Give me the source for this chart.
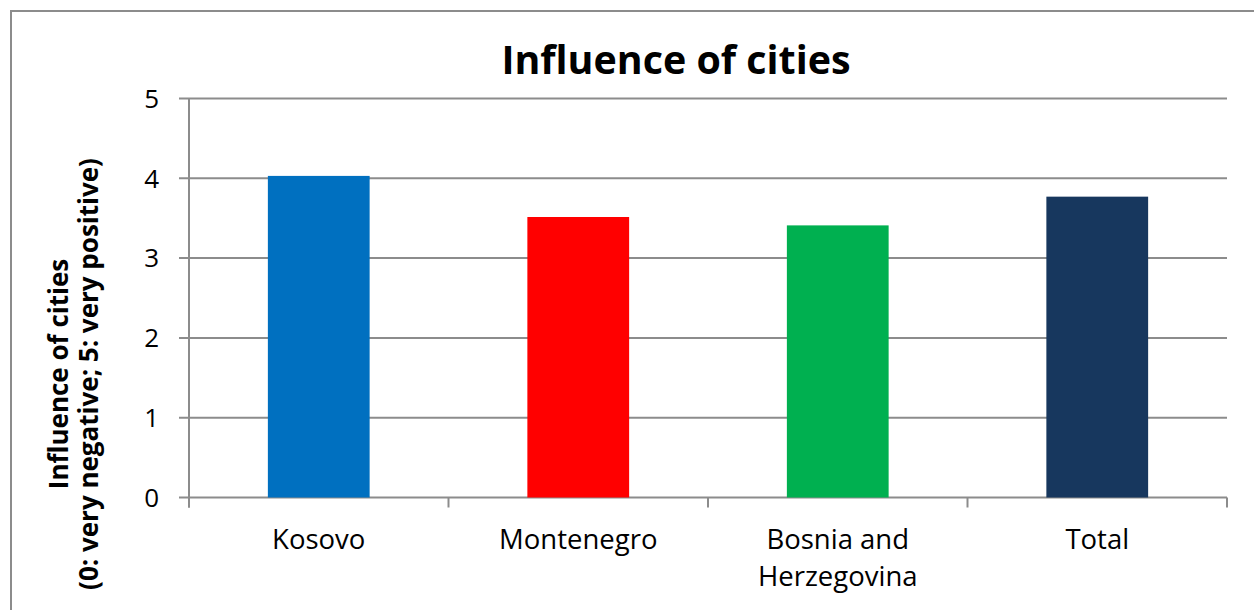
<!DOCTYPE html>
<html>
<head>
<meta charset="utf-8">
<script src="https://cdn.jsdelivr.net/npm/d3@7"></script>
<style>
  body { margin: 0; background: #fff; }
  text { font-family: "Open Sans", sans-serif; fill: #000; }
</style>
</head>
<body>
<div id="chart"></div>
<script>
// data
var categories = ['Kosovo', 'Montenegro', 'Bosnia and Herzegovina', 'Total']
var labelLines = [['Kosovo'], ['Montenegro'], ['Bosnia and', 'Herzegovina'], ['Total']]
var values = [4.03, 3.515, 3.41, 3.77]
var barColors = ['#0070C0', '#FF0000', '#00B050', '#17375E']
var yTicks = [0, 1, 2, 3, 4, 5]

var width = 1254
var height = 610
var margin = { top: 98.5, left: 189, right: 27, bottom: 112.5 }
var gridColor = '#8c8c8c'

var svg = d3
  .select('#chart')
  .append('svg')
  .attr('width', width)
  .attr('height', height)

// outer chart border (only top and left visible)
svg
  .append('rect')
  .attr('x', 11)
  .attr('y', 11)
  .attr('width', width + 20)
  .attr('height', height + 20)
  .attr('fill', 'none')
  .attr('stroke', gridColor)
  .attr('stroke-width', 2)

var x = d3
  .scaleBand()
  .domain(categories)
  .range([margin.left, width - margin.right])
  .padding(0)

var y = d3
  .scaleLinear()
  .domain([0, 5])
  .range([height - margin.bottom, margin.top])

// gridlines + left ticks
svg
  .append('g')
  .selectAll('line')
  .data(yTicks)
  .enter()
  .append('line')
  .attr('x1', margin.left - 10)
  .attr('x2', width - margin.right)
  .attr('y1', d => y(d))
  .attr('y2', d => y(d))
  .attr('stroke', gridColor)
  .attr('stroke-width', 2)

// y axis line
svg
  .append('line')
  .attr('x1', margin.left)
  .attr('x2', margin.left)
  .attr('y1', y(5))
  .attr('y2', y(0) + 10)
  .attr('stroke', gridColor)
  .attr('stroke-width', 2)

// bottom ticks at band boundaries
var boundaries = categories.map(c => x(c)).concat([width - margin.right])
svg
  .append('g')
  .selectAll('line')
  .data(boundaries)
  .enter()
  .append('line')
  .attr('x1', d => d)
  .attr('x2', d => d)
  .attr('y1', y(0))
  .attr('y2', y(0) + 10)
  .attr('stroke', gridColor)
  .attr('stroke-width', 2)

// bars
var barW = x.bandwidth() / 2.55
svg
  .append('g')
  .selectAll('rect')
  .data(values)
  .enter()
  .append('rect')
  .attr('x', (d, i) => x(categories[i]) + x.bandwidth() / 2 - barW / 2)
  .attr('y', d => y(d))
  .attr('width', barW)
  .attr('height', d => y(0) - y(d))
  .attr('fill', (d, i) => barColors[i])

// y tick labels
svg
  .append('g')
  .selectAll('text')
  .data(yTicks)
  .enter()
  .append('text')
  .attr('x', 159)
  .attr('y', d => y(d))
  .attr('dy', '0.36em')
  .attr('text-anchor', 'end')
  .style('font-size', '26px')
  .text(d => d)

// category labels
var catLabels = svg
  .append('g')
  .selectAll('text')
  .data(labelLines)
  .enter()
  .append('text')
  .attr('text-anchor', 'middle')
  .attr('x', (d, i) => x(categories[i]) + x.bandwidth() / 2)
  .attr('y', 549)
  .style('font-size', '27.5px')

catLabels
  .selectAll('tspan')
  .data(d => d)
  .enter()
  .append('tspan')
  .attr('x', function () { return this.parentNode.getAttribute('x') })
  .attr('dy', (d, i) => (i === 0 ? 0 : 37))
  .text(d => d)

// title
svg
  .append('text')
  .attr('x', 676)
  .attr('y', 74)
  .attr('text-anchor', 'middle')
  .style('font-size', '39.4px')
  .style('font-weight', 'bold')
  .text('Influence of cities')

// y axis title
var yTitle = svg
  .append('text')
  .attr('transform', 'translate(0,374) rotate(-90)')
  .attr('text-anchor', 'middle')
  .style('font-size', '26px')
  .style('font-weight', 'bold')

yTitle.append('tspan').attr('x', 0).attr('y', 68).text('Influence of cities')
yTitle.append('tspan').attr('x', 0).attr('y', 98).text('(0: very negative; 5: very positive)')
</script>
</body>
</html>
